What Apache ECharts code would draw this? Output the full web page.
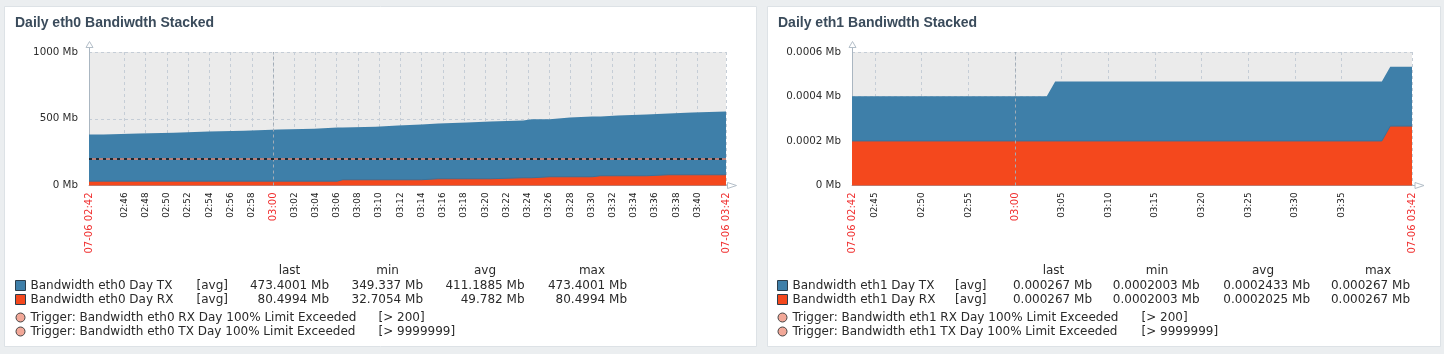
<!DOCTYPE html>
<html>
<head>
<meta charset="utf-8">
<script src="https://cdn.jsdelivr.net/npm/echarts@6/dist/echarts.min.js"></script>
<style>
html, body { margin: 0; padding: 0; background: #ebeef0; }
#main { width: 1444px; height: 354px; }
</style>
</head>
<body>
<div id="main"></div>
<script>
// time values are minutes after 02:00 on 07-06
var eth0Range = [42.67, 102.67];
var eth0Times = [42.67, 44.04, 47.34, 50.65, 53.95, 57.27, 60.57, 63.87, 66.07, 66.57, 69.67, 71.77, 73.97, 75.57, 78.27, 80.47, 83.57, 84.37, 86.07, 87.97, 90.07, 90.87, 92.47, 95.17, 97.27, 99.47, 102.67];
var eth0Rx = [32.7, 32.7, 32.7, 32.7, 32.7, 32.7, 32.7, 32.7, 43, 43, 43, 43, 50.5, 50.5, 50.5, 58, 58, 65.5, 65.5, 65.5, 73, 73, 73, 80.5, 80.5, 80.5, 80.5];
var eth0Tx = [349.3, 356.3, 363.3, 371.3, 378.3, 386.3, 393.3, 401.3, 391, 398, 406, 413, 413.5, 420.5, 428.5, 428, 439, 431.5, 443.5, 451.5, 444, 451, 459, 458.5, 466.5, 473.4, 473.4];
var eth0Ticks = [46, 48, 50, 52, 54, 56, 58, 60, 62, 64, 66, 68, 70, 72, 74, 76, 78, 80, 82, 84, 86, 88, 90, 92, 94, 96, 98, 100];
var eth0Trigger = 200;

var eth1Range = [42.53, 102.53];
var eth1Times = [42.53, 63.4, 64.3, 99.3, 100.2, 102.53];
var eth1Rx = [0.0002003, 0.0002003, 0.0002003, 0.0002003, 0.000267, 0.000267];
var eth1Tx = [0.0002003, 0.0002003, 0.000267, 0.000267, 0.000267, 0.000267];
var eth1Ticks = [45, 50, 55, 60, 65, 70, 75, 80, 85, 90, 95];

var statHeads = ['last', 'min', 'avg', 'max'];
var eth0Names = ['Bandwidth eth0 Day TX', 'Bandwidth eth0 Day RX'];
var eth0Stats = [['473.4001 Mb', '349.337 Mb', '411.1885 Mb', '473.4001 Mb'],
                 ['80.4994 Mb', '32.7054 Mb', '49.782 Mb', '80.4994 Mb']];
var eth0Triggers = [['Trigger: Bandwidth eth0 RX Day 100% Limit Exceeded', '[> 200]'],
                    ['Trigger: Bandwidth eth0 TX Day 100% Limit Exceeded', '[> 9999999]']];
var eth1Names = ['Bandwidth eth1 Day TX', 'Bandwidth eth1 Day RX'];
var eth1Stats = [['0.000267 Mb', '0.0002003 Mb', '0.0002433 Mb', '0.000267 Mb'],
                 ['0.000267 Mb', '0.0002003 Mb', '0.0002025 Mb', '0.000267 Mb']];
var eth1Triggers = [['Trigger: Bandwidth eth1 RX Day 100% Limit Exceeded', '[> 200]'],
                    ['Trigger: Bandwidth eth1 TX Day 100% Limit Exceeded', '[> 9999999]']];

var txColor = '#3e7fa9';
var rxColor = '#f4481d';
var axisColor = '#aab6c1';
var gridColor = '#c5cdd6';
var font = '"DejaVu Sans", sans-serif';

function pairs(xs, ys) {
    return xs.map(function (x, i) { return [x, ys[i]]; });
}
// TX is stacked on RX: its area top is rx + tx
function stacked(xs, lower, upper) {
    return xs.map(function (x, i) { return [x, lower[i] + upper[i]]; });
}
function pad(n) { return n < 10 ? '0' + n : '' + n; }
function hhmm(v) {
    var m = Math.floor(v + 1e-6);
    return pad(2 + Math.floor(m / 60)) + ':' + pad(m % 60);
}
function timeLabel(range) {
    return function (v) {
        if (Math.abs(v - range[0]) < 1e-6 || Math.abs(v - range[1]) < 1e-6) return '{r|07-06 ' + hhmm(v) + '}';
        if (Math.abs(v - 60) < 1e-6) return '{r|' + hhmm(v) + '}';
        return hhmm(v);
    };
}

function xAxisFor(idx, range, ticks) {
    var vals = [range[0]].concat(ticks, [range[1]]);
    return {
        type: 'value', gridIndex: idx, min: range[0], max: range[1],
        axisLine: { show: true, lineStyle: { color: axisColor } },
        axisTick: { show: false, customValues: vals },
        axisLabel: {
            customValues: vals, rotate: 90, margin: 7, fontSize: 8.8, color: '#222', fontFamily: font,
            formatter: timeLabel(range),
            rich: { r: { color: '#f03030', fontSize: 10, fontFamily: font } }
        },
        splitLine: { show: true, lineStyle: { color: gridColor, type: [3, 3] } }
    };
}

function yAxisFor(idx, max, interval, fmt) {
    return {
        type: 'value', gridIndex: idx, min: 0, max: max, interval: interval,
        axisLine: { show: true, lineStyle: { color: axisColor } },
        axisTick: { show: false },
        axisLabel: { fontSize: 10.3, color: '#2e2e2e', fontFamily: font, margin: 11, formatter: fmt },
        splitLine: { show: true, lineStyle: { color: gridColor, type: [3, 3] } }
    };
}

function noonLine(idx) {
    return {
        type: 'line', xAxisIndex: idx, yAxisIndex: idx, data: [], z: 1, silent: true,
        markLine: {
            symbol: ['none', 'none'], silent: true, label: { show: false }, animation: false,
            lineStyle: { color: '#a2acb6', type: [3, 3], width: 1 },
            data: [{ xAxis: 60 }]
        }
    };
}

function areaSeries(idx, name, data, color, step, z, line) {
    return {
        name: name, type: 'line', xAxisIndex: idx, yAxisIndex: idx, step: step,
        data: data, symbol: 'none', z: z,
        lineStyle: line ? { width: 1, color: '#3a729a' } : { width: 0, opacity: 0 },
        areaStyle: { color: color, opacity: 1 }
    };
}

function txt(x, y, s, align, extra) {
    return {
        type: 'text', silent: true,
        style: Object.assign({ x: x, y: y, text: s, fill: '#2a2a2a', font: '12px ' + font,
            textAlign: align || 'left', textVerticalAlign: 'middle' }, extra || {})
    };
}

function panel(p, title, names, stats, triggers, L) {
    var els = [];
    els.push({ type: 'rect', z: -10, silent: true, shape: { x: p.x + 0.5, y: p.y + 0.5, width: p.w, height: p.h },
        style: { fill: '#ffffff', stroke: '#dde2e6', lineWidth: 1 } });
    els.push(txt(p.x + 11, 23.5, title, 'left', { font: 'bold 14px Arial, "Liberation Sans"', fill: '#3a4b5b' }));
    // axis arrows
    els.push({ type: 'line', silent: true, shape: { x1: L.ax + 0.5, y1: 47, x2: L.ax + 0.5, y2: 52 }, style: { stroke: axisColor, lineWidth: 1 } });
    els.push({ type: 'polygon', silent: true, shape: { points: [[L.ax - 3, 47.5], [L.ax + 0.5, 41.5], [L.ax + 4, 47.5]] }, style: { fill: '#fff', stroke: '#b3bec8', lineWidth: 1 } });
    els.push({ type: 'line', silent: true, shape: { x1: L.axR, y1: 185.5, x2: L.arrowX, y2: 185.5 }, style: { stroke: axisColor, lineWidth: 1 } });
    els.push({ type: 'polygon', silent: true, shape: { points: [[L.arrowX, 182.5], [L.arrowX + 9, 185.5], [L.arrowX, 188.5]] }, style: { fill: '#fff', stroke: '#b3bec8', lineWidth: 1 } });
    // legend
    statHeads.forEach(function (h, i) { els.push(txt(L.heads[i], 271, h, 'center')); });
    var colors = [txColor, rxColor];
    [285.5, 299.5].forEach(function (y, r) {
        els.push({ type: 'rect', silent: true, shape: { x: L.sq + 0.5, y: y - 5, width: 10, height: 10 },
            style: { fill: colors[r], stroke: '#2c3e4c', lineWidth: 1 } });
        els.push(txt(L.name, y, names[r]));
        els.push(txt(L.avg, y, '[avg]'));
        stats[r].forEach(function (v, i) { els.push(txt(L.vals[i], y, v, 'right')); });
    });
    [317.5, 331.5].forEach(function (y, r) {
        els.push({ type: 'circle', silent: true, shape: { cx: L.sq + 5.5, cy: y, r: 4.5 },
            style: { fill: '#f2a898', stroke: '#444', lineWidth: 1 } });
        els.push(txt(L.name, y, triggers[r][0]));
        els.push(txt(L.trig, y, triggers[r][1]));
    });
    return els;
}

var leftLayout = { ax: 89, axR: 726, arrowX: 727.5, sq: 15, name: 30.5, avg: 196.5,
    heads: [289.5, 387.5, 485, 592], vals: [329, 423, 524.5, 627], trig: 378.5 };
var rightLayout = { ax: 852, axR: 1412, arrowX: 1415, sq: 777, name: 792.5, avg: 955,
    heads: [1053.5, 1157, 1263, 1378], vals: [1092, 1199.5, 1310, 1410], trig: 1141.5 };

var graphics = []
    .concat(panel({ x: 4, y: 6, w: 752, h: 340 }, 'Daily eth0 Bandiwdth Stacked', eth0Names, eth0Stats, eth0Triggers, leftLayout))
    .concat(panel({ x: 767, y: 6, w: 673, h: 340 }, 'Daily eth1 Bandiwdth Stacked', eth1Names, eth1Stats, eth1Triggers, rightLayout));

var myChart = echarts.init(document.getElementById('main'));
var option = {
    animation: false,
    backgroundColor: '#ebeef0',
    graphic: { elements: graphics },
    grid: [
        { left: 89, top: 52, width: 637, height: 133.5, show: true, backgroundColor: '#ebebeb', borderWidth: 0, outerBoundsMode: 'none' },
        { left: 852, top: 52, width: 560, height: 133.5, show: true, backgroundColor: '#ebebeb', borderWidth: 0, outerBoundsMode: 'none' }
    ],
    xAxis: [xAxisFor(0, eth0Range, eth0Ticks), xAxisFor(1, eth1Range, eth1Ticks)],
    yAxis: [
        yAxisFor(0, 1000, 500, function (v) { return v + ' Mb'; }),
        yAxisFor(1, 0.0006, 0.0002, function (v) { return v === 0 ? '0 Mb' : v.toFixed(4) + ' Mb'; })
    ],
    series: [
        noonLine(0),
        areaSeries(0, eth0Names[0], stacked(eth0Times, eth0Rx, eth0Tx), txColor, 'end', 2, false),
        areaSeries(0, eth0Names[1], pairs(eth0Times, eth0Rx), rxColor, 'end', 3, true),
        {
            type: 'line', xAxisIndex: 0, yAxisIndex: 0, data: [], z: 5, silent: true,
            markLine: {
                symbol: ['none', 'none'], silent: true, label: { show: false }, animation: false,
                data: [
                    { yAxis: eth0Trigger, lineStyle: { color: '#b47f7b', type: 'solid', width: 2 } },
                    { yAxis: eth0Trigger, lineStyle: { color: '#1c2a36', type: [3, 4], width: 2 } }
                ]
            }
        },
        noonLine(1),
        areaSeries(1, eth1Names[0], stacked(eth1Times, eth1Rx, eth1Tx), txColor, false, 2, false),
        areaSeries(1, eth1Names[1], pairs(eth1Times, eth1Rx), rxColor, false, 3, true)
    ]
};
myChart.setOption(option);
</script>
</body>
</html>
